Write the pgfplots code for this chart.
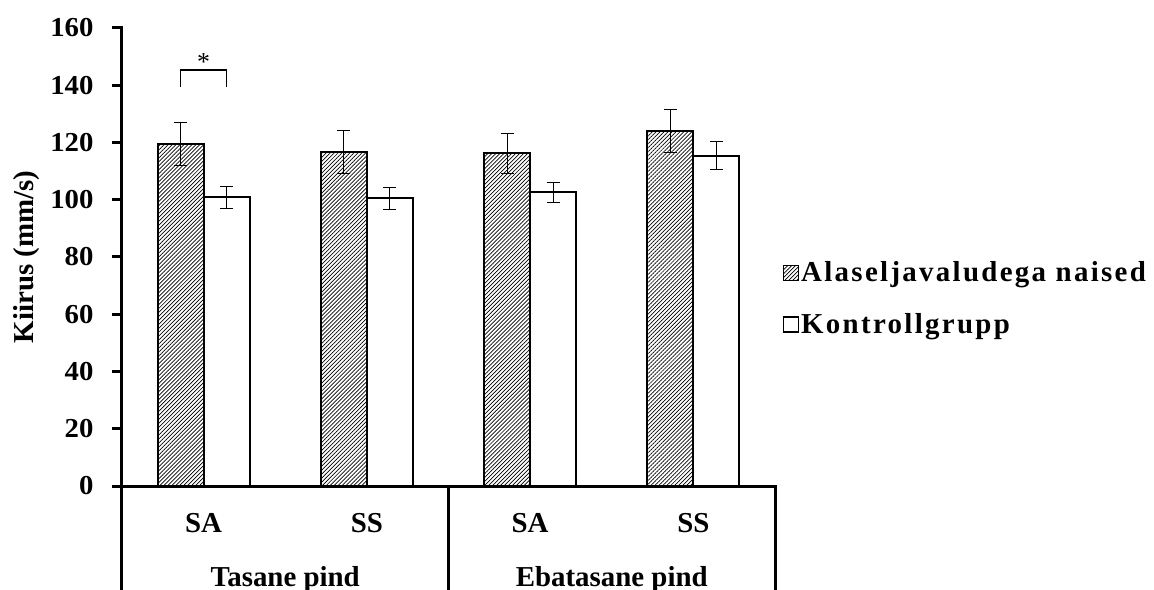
\documentclass[border=0pt]{standalone}
\usepackage{fontspec}
\setmainfont{Liberation Serif}
\newfontfamily\tickfont{Liberation Serif}[FakeStretch=1.05]
\newfontfamily\legfont{Liberation Serif}[LetterSpace=8]
\usepackage{pgfplots}
\pgfplotsset{compat=1.18}
\usetikzlibrary{patterns.meta}
\begin{document}
\begin{tikzpicture}
\useasboundingbox (-122bp,-104bp) rectangle (1032bp,486bp);
\begin{axis}[
  at={(0,0)}, anchor=south west,
  scale only axis, width=653bp, height=458bp,
  xmin=-0.5, xmax=3.5, ymin=0, ymax=160,
  ybar=0pt, bar width=46bp,
  axis lines*=left,
  axis line style={line width=3bp, black, line cap=rect},
  clip=false,
  ytick={0,20,...,160},
  tick align=outside,
  major tick length=10bp,
  ytick style={line width=3bp, black},
  xtick={0,1,2,3}, xticklabels={SA,SS,SA,SS},
  xtick style={draw=none},
  xticklabel style={font=\bfseries\fontsize{29}{29}\selectfont, anchor=base, yshift=-36bp},
  yticklabel style={font=\tickfont\bfseries\fontsize{27.5}{27.5}\selectfont, xshift=-15bp},
  /pgf/number format/assume math mode=true,
  ylabel={Kiirus (mm/s)},
  ylabel style={font=\bfseries\fontsize{29}{29}\selectfont, at={(rel axis cs:-0.1455,0.5)}, anchor=center},
  legend style={at={(1.012,0.41)}, anchor=west, draw=none, fill=none,
    font=\legfont\bfseries\fontsize{29}{29}\selectfont, row sep=26bp, inner sep=0pt,
    /tikz/every even column/.append style={column sep=3bp}},
  legend cell align=left,
  legend image code/.code={\draw[#1, line width=1.2bp] (0bp,-8bp) rectangle (15bp,7bp);},
]
\addplot[draw=black, line width=2bp,
  pattern={Lines[angle=45,distance=2.8bp,line width=0.7bp]},
  error bars/.cd, y dir=both, y explicit,
  error bar style={line width=1.1bp, black},
  error mark options={rotate=90, line width=1.1bp, mark size=6.5bp, black}]
  coordinates {(0,119.5) +- (0,7.5) (1,116.8) +- (0,7.5) (2,116.2) +- (0,7.0) (3,123.9) +- (0,7.5)};
\addlegendentry{Alaseljavaludega naised}
\addplot[draw=black, fill=white, line width=2bp,
  error bars/.cd, y dir=both, y explicit,
  error bar style={line width=1.1bp, black},
  error mark options={rotate=90, line width=1.1bp, mark size=6.5bp, black}]
  coordinates {(0,100.8) +- (0,3.8) (1,100.5) +- (0,3.9) (2,102.6) +- (0,3.5) (3,115.4) +- (0,4.9)};
\addlegendentry{Kontrollgrupp}
% significance bracket
\draw[line width=1.5bp] (axis cs:-0.141,139.4) -- (axis cs:-0.141,145.3) -- (axis cs:0.141,145.3) -- (axis cs:0.141,139.4);
\node[font=\fontsize{26}{26}\selectfont] at (axis cs:0,148) {*};
% table lines below axis
\draw[line width=3bp] (axis cs:-0.5,0) -- ([yshift=-110bp]axis cs:-0.5,0);
\draw[line width=3bp, line cap=rect] (axis cs:3.5,0) -- ([yshift=-110bp]axis cs:3.5,0);
\draw[line width=2.4bp] (axis cs:1.5,0) -- ([yshift=-110bp]axis cs:1.5,0);
\node[anchor=base, font=\bfseries\fontsize{29}{29}\selectfont] at ([yshift=-100bp]axis cs:0.5,0) {Tasane pind};
\node[anchor=base, font=\bfseries\fontsize{29}{29}\selectfont] at ([yshift=-100bp]axis cs:2.5,0) {Ebatasane pind};
\end{axis}
\end{tikzpicture}
\end{document}
